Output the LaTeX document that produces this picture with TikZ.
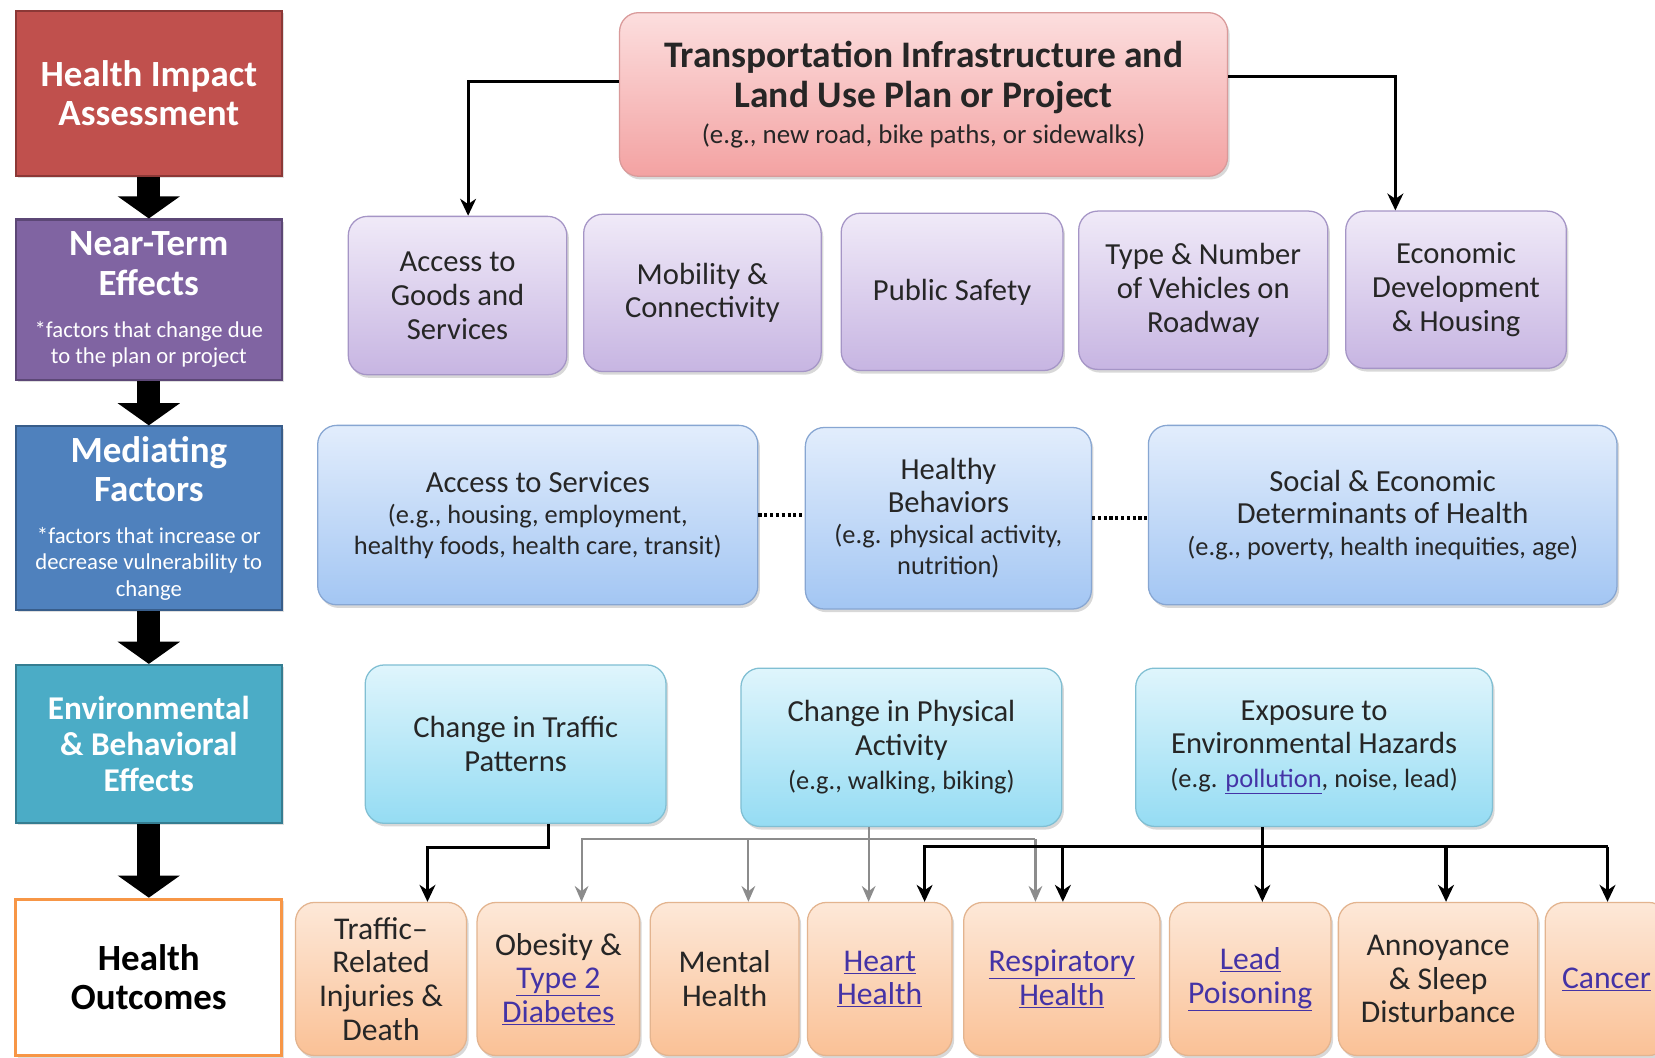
\documentclass[tikz,border=0pt]{standalone}
\usepackage{fontspec}
\setmainfont{Carlito}
\usetikzlibrary{arrows.meta,shadows}

\definecolor{hiared}{HTML}{C0504D}
\definecolor{hiaedge}{HTML}{8C3836}
\definecolor{ntpurple}{HTML}{8064A2}
\definecolor{ntedge}{HTML}{5C4776}
\definecolor{mfblue}{HTML}{4F81BD}
\definecolor{mfedge}{HTML}{385D8A}
\definecolor{ebteal}{HTML}{4BACC6}
\definecolor{ebedge}{HTML}{357D91}
\definecolor{hoorange}{HTML}{F79646}
\definecolor{pinktop}{HTML}{FCDEDE}
\definecolor{pinkbot}{HTML}{F3A2A2}
\definecolor{pinkedge}{HTML}{D99A9A}
\definecolor{lavtop}{HTML}{F0EAF8}
\definecolor{lavbot}{HTML}{C7B5E2}
\definecolor{lavedge}{HTML}{A595C6}
\definecolor{skytop}{HTML}{E2EDFC}
\definecolor{skybot}{HTML}{A3C6F3}
\definecolor{skyedge}{HTML}{87A6D2}
\definecolor{aquatop}{HTML}{DFF5FC}
\definecolor{aquabot}{HTML}{95DCF3}
\definecolor{aquaedge}{HTML}{80BFD3}
\definecolor{peachtop}{HTML}{FDE8D8}
\definecolor{peachbot}{HTML}{FAC196}
\definecolor{peachedge}{HTML}{E3B48F}
\definecolor{linkc}{HTML}{4433A6}
\definecolor{busgray}{HTML}{8C8C8C}

\newcommand{\fsz}[2]{\fontsize{#1}{#2}\selectfont}
\newcommand{\lnk}[1]{\textcolor{linkc}{\underline{#1}}}
\newcommand{\sm}[1]{{\mdseries\fsz{21.5}{25}#1}}
\newcommand{\exm}[1]{{\fsz{25}{28}#1}}

\begin{document}
\begin{tikzpicture}[x=1pt,y=-1pt,
  stage/.style={draw,line width=2pt,inner sep=0pt,align=center,minimum width=252pt,text=white,
    font=\bfseries\fsz{35}{37},drop shadow={opacity=.25,shadow xshift=2pt,shadow yshift=-2pt}},
  card/.style={draw,line width=1.2pt,rounded corners=18pt,inner sep=0pt,align=center,text=black!85,
    drop shadow={opacity=.3,shadow xshift=2pt,shadow yshift=-3pt}},
  plan/.style={card,draw=pinkedge,top color=pinktop,bottom color=pinkbot,font=\bfseries\fsz{35.5}{38}},
  near/.style={card,draw=lavedge,top color=lavtop,bottom color=lavbot,font=\fsz{29}{32}},
  medi/.style={card,draw=skyedge,top color=skytop,bottom color=skybot,font=\fsz{29}{29}},
  envi/.style={card,draw=aquaedge,top color=aquatop,bottom color=aquabot,font=\fsz{29}{32}},
  outc/.style={card,draw=peachedge,top color=peachtop,bottom color=peachbot,font=\fsz{30}{32},minimum height=145pt},
  bigarrow/.style={line width=22pt,-{Triangle[width=58pt,length=21pt]}},
  conn/.style={line width=3pt,-{Stealth[length=16pt,width=15pt,inset=5pt]}},
  gconn/.style={line width=2pt,draw=busgray,-{Stealth[length=15pt,width=13pt,inset=5pt]}},
  dots/.style={line width=3.5pt,dash pattern=on 3pt off 2.5pt}]

  \fill[white] (0,0) rectangle (1568,1002);
  \useasboundingbox (0,0) rectangle (1568,1002);

  % left column
  \node[stage,fill=hiared,draw=hiaedge,minimum height=157pt] (hia) at (141,88.5) {Health Impact\\Assessment};
  \node[stage,fill=ntpurple,draw=ntedge,minimum height=152pt] (nte) at (141,284) {Near-Term\\Effects\\[3pt]\sm{*factors that change due}\\[-12pt]\sm{to the plan or project}};
  \node[stage,fill=mfblue,draw=mfedge,minimum height=174pt] (mfac) at (141,491) {Mediating\\Factors\\[3pt]\sm{*factors that increase or}\\[-12pt]\sm{decrease vulnerability to}\\[-12pt]\sm{change}};
  \node[stage,fill=ebteal,draw=ebedge,minimum height=150pt,font=\bfseries\fsz{31.5}{34}] (ebe) at (141,705) {Environmental\\\& Behavioral\\Effects};
  \node[stage,fill=white,draw=hoorange,line width=3pt,text=black,minimum height=148pt] (hout) at (141,926) {Health\\Outcomes};

  \draw[bigarrow] (hia.south) -- (nte.north);
  \draw[bigarrow] (nte.south) -- (mfac.north);
  \draw[bigarrow] (mfac.south) -- (ebe.north);
  \draw[bigarrow] (ebe.south) -- (hout.north);

  % plan or project
  \node[plan,minimum width=576pt,minimum height=155pt] (trans) at (875,89.5) {Transportation Infrastructure and\\Land Use Plan or Project\\[-4pt]{\mdseries\fsz{25.5}{28}(e.g., new road, bike paths, or sidewalks)}};

  % near-term effects
  \node[near,minimum width=207pt,minimum height=150pt] (agoods) at (433.5,280) {Access to\\Goods and\\Services};
  \node[near,minimum width=225pt,minimum height=149pt] (mobil) at (665.5,277.5) {Mobility \&\\Connectivity};
  \node[near,minimum width=210pt,minimum height=149pt] (psafe) at (902,276.5) {Public Safety};
  \node[near,minimum width=236pt,minimum height=150pt] (vehic) at (1140,275) {Type \& Number\\of Vehicles on\\Roadway};
  \node[near,minimum width=209pt,minimum height=149pt] (econ) at (1379.5,274.5) {Economic\\Development\\\& Housing};

  \draw[conn] ([yshift=12pt]trans.west) -| ([xshift=10pt]agoods.north);
  \draw[conn] ([yshift=17pt]trans.east) -| (econ.north -| 1322,0);

  % mediating factors
  \node[medi,minimum width=417pt,minimum height=170pt] (asvc) at (509.5,488) {Access to Services\\\exm{(e.g., housing, employment,}\\\exm{healthy foods, health care, transit)}};
  \node[medi,minimum width=271pt,minimum height=172pt] (hbeh) at (898.5,491) {Healthy\\[2pt]Behaviors\\[1pt]\exm{(e.g. physical activity,}\\\exm{nutrition)}};
  \node[medi,minimum width=444pt,minimum height=170pt] (sdet) at (1310,488) {Social \& Economic\\[2pt]Determinants of Health\\[1pt]\exm{(e.g., poverty, health inequities, age)}};

  \draw[dots] (asvc.east) -- (asvc.east -| hbeh.west);
  \draw[dots] (hbeh.east) -- (hbeh.east -| sdet.west);

  % environmental & behavioral effects
  \node[envi,minimum width=285pt,minimum height=150pt] (ctraf) at (488.5,705) {Change in Traffic\\Patterns};
  \node[envi,minimum width=304pt,minimum height=150pt] (cphys) at (854,708) {Change in Physical\\Activity\\\exm{(e.g., walking, biking)}};
  \node[envi,minimum width=338pt,minimum height=150pt] (expo) at (1245,708) {Exposure to\\Environmental Hazards\\\exm{(e.g. \lnk{pollution}, noise, lead)}};

  % health outcomes
  \node[outc,minimum width=162pt] (injury) at (361,927.5) {Traffic--\\Related\\Injuries \&\\Death};
  \node[outc,minimum width=154pt] (obes) at (529,927.5) {Obesity \&\\\lnk{Type 2}\\\lnk{Diabetes}};
  \node[outc,minimum width=141pt] (mental) at (686.5,927.5) {Mental\\Health};
  \node[outc,minimum width=137pt] (heart) at (833.5,927.5) {\lnk{Heart}\\\lnk{Health}};
  \node[outc,minimum width=186pt] (resp) at (1006,927.5) {\lnk{Respiratory}\\\lnk{Health}};
  \node[outc,minimum width=153pt] (lead) at (1184.5,927.5) {\lnk{Lead}\\\lnk{Poisoning}};
  \node[outc,minimum width=189pt] (annoy) at (1362.5,927.5) {Annoyance\\\& Sleep\\Disturbance};
  \node[outc,minimum width=116pt] (cancer) at (1522,927.5) {\lnk{Cancer}};

  \coordinate (gl) at (551,795);
  \coordinate (gr) at (981,795);
  \coordinate (bl) at (876,802);
  \coordinate (br) at (1523,802);

  \draw[conn] ([xshift=31.5pt]ctraf.south) -- ++(0,22) -| (injury.north -| 405,0);

  \draw[gconn] (gr) -- (gl) -- (obes.north -| gl);
  \draw[gconn] (gl -| 709,0) -- (mental.north -| 709,0);
  \draw[gconn] ([xshift=-31pt]cphys.south) -- (heart.north -| 823,0);
  \draw[gconn] (gr) -- (resp.north -| gr);

  \draw[conn] (br) -- (bl) -- (heart.north -| bl);
  \draw[conn] (bl -| 1007,0) -- (resp.north -| 1007,0);
  \draw[conn] ([xshift=-49pt]expo.south) -- (lead.north -| 1196,0);
  \draw[conn] (bl -| 1370,0) -- (annoy.north -| 1370,0);
  \draw[conn] (br) -- (cancer.north -| br);
\end{tikzpicture}
\end{document}
